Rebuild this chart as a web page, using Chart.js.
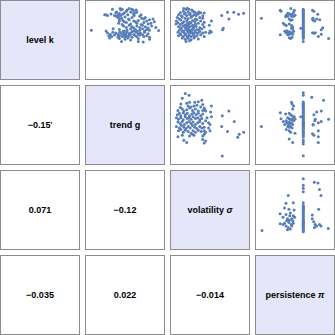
<!DOCTYPE html>
<html><head><meta charset="utf-8">
<script src="https://cdn.jsdelivr.net/npm/chart.js@4/dist/chart.umd.min.js"></script>
<style>
html,body{margin:0;padding:0;background:#fff;}
#grid{position:relative;width:335px;height:335px;}
.cell{position:absolute;width:80px;height:80px;box-sizing:border-box;border:1px solid #8c8c8c;background:#fff;display:flex;align-items:center;justify-content:center;font:bold 9px "Liberation Sans",Arial,Helvetica,sans-serif;color:#000;white-space:pre;}
.diag{background:#e6e6fa;}
.cell canvas{position:absolute;left:0;top:0;}
.mark{font-size:8px;position:relative;top:-1px;}
</style></head>
<body><div id="grid"></div>
<script>
// variable names (diagonal)
const varLabels = ['level k', 'trend g', 'volatility <i>σ</i>', 'persistence <i>π</i>'];
// correlations (lower triangle) and significance marks
const corrCells = [[1,0],[2,0],[2,1],[3,0],[3,1],[3,2]];
const corrLabels = ['−0.15', '0.071', '−0.12', '−0.035', '0.022', '−0.014'];
const corrMarks = ["'", '', '', '', '', ''];

// scatter data, values on a 0–100 scale for each variable: [x, y]
// x = trend g, y = level k
const trendLevel = [
[32,94],[43,95],[44,93],[46,94],[53,93],[56,95],[60,94],[62,92],[66,93],
[37,89],[38,90],[42,88],[49,89],[52,91],[58,90],[62,88],[65,89],[67,90],
[21,86],[23,86],[25,85],[30,87],[35,85],[37.5,84],[40,86],[41,84],[44,85],[47,87],[54,86],[63,85],[71,84],[73,86],
[40,82],[42,80],[45,81],[50,83],[55,80],[60,82],[74,81],[77,80],[79,82],[90,80],
[42,77],[47,78],[49,76],[56,79],[62.5,77],[65,76],[69,78],[81,77],[85,79],[92,76],
[41,74],[46,72],[52,75],[58,73],[67,74],[73,72],[77,75],[83,73],[87,74],
[48,70],[52,68],[56,71],[60,69],[62.5,67],[67,70],[71,68],[75,71],[79,69],[83,67],[88,70],[94,68],
[2,64],[23,63],[33,66],[42,65],[49,63],[53,64],[58,66],[62.5,63],[65,65],[67.5,62.5],[71,64],[75,66],[78,63],[81,65],[85,64],[98,63.5],
[25,60],[29,58],[32.5,61],[37,60],[40,58],[42.5,61],[45,59],[47,62],[49,60],[51,58],[53,61],[56,59],[58,60],[60,62],[62.5,58],[66,61],[69,59],[72,60],[75,58],[78,61],[83,59],
[27,56],[31,55],[35,57],[40,54],[42,56],[46,55],[48,57],[50,54],[52,56],[55,55],[57.5,57],[60,54],[65,56],[67,55],[71,57],[77,55],[81,56],[85,54],
[28,53],[42,52],[50,51],[54,53],[58,50],[69,52],[85,51],
[45,48],[69,48],[76,47]
];
// x = volatility σ, y = level k
const volLevel = [
[12.5,95],[16,93.5],[17.5,95.5],[20,94],[24,93],
[7.5,89],[11.7,91],[14.6,88.5],[18.8,90],[21.7,88],[25.8,91],[28.3,89.5],[31.3,88],[34,90],[36.7,89],[41.7,88.5],
[5,86],[9.2,84.5],[13.3,87],[16.7,85],[20.8,86.5],[24.2,84],[27,86],[30,85],[33.3,87],[39.6,84.5],
[3.3,82],[6.3,80],[10.4,83],[14.6,81],[18.8,80.5],[22.9,82.5],[29.2,80],[35.4,82],[39.6,81],
[2,77],[8.3,78.5],[12.5,76],[16.7,77.5],[20.8,75.5],[25,78],[28.3,76.5],[31.3,79],[36.7,77],[41.7,75.5],[52,77],
[1.3,73],[4.2,74.5],[7.5,72],[10.4,74],[14.6,71.5],[17.5,73.5],[20,72],[22.9,74.5],[25.8,71],[29.2,73],[33.3,74],[39.6,72],[49,71],
[5,69],[8.3,67.5],[11.7,70],[14.6,68],[16.7,70.5],[18.8,67],[20.8,69],[24.2,70],[27,68],[30,69.5],[35.4,67.5],[41.7,68.5],
[6.3,64],[9.2,66],[12.5,63],[15.8,65.5],[17.5,63.5],[20,65],[21.7,62.5],[24.2,64.5],[25.8,66],[28.3,63],[31.3,65],[34.2,64],[38.3,66],[50,63],
[4.2,61],[7.5,59],[10.4,62],[13.3,60],[15.8,58.5],[18.8,61.5],[20.8,59.5],[22.9,62],[25,60],[27,58.5],[29.2,61],[32.5,59.5],[35.4,62],[39.6,60],[43.8,61],[49,60],[52,61.5],
[5,56],[8.3,57.5],[11.7,55],[14.6,57],[17.5,54.5],[20,56.5],[22.9,55],[25.8,57],[28.3,54.5],[31.3,56],[36.7,57.5],[41.7,55],
[10.4,53],[14.6,51],[18.8,52.5],[22.9,50.5],[27,53],[33.3,51.5],
[15.8,48],[20.8,49],
[66.7,85],[75,89.6],[84,89.6],[90.8,86.7],[98,88.3],[77,80],[68,64.6],[69,66.7]
];
// x = persistence π, y = level k
const persLevel = [
[2,81],
[61.8,94],[61.8,92.6],[61.8,91],[61.8,89.4],[61.8,88.1],[61.8,86.5],[61.8,85],[61.8,83.4],[61.8,82.1],[61.8,80.6],[61.8,79],[61.8,77.4],[61.8,76.1],[61.8,74.5],[61.8,73],[61.8,71.6],[61.8,70.1],[61.8,68.4],[61.8,67],[61.8,65.6],[61.8,64],[61.8,62.4],[61.8,61.1],[61.8,59.5],[61.8,58],[61.8,56.4],[61.8,55],[61.8,53.6],[61.8,52.2],[61.8,48],
[29,92.5],[30,91],[44,95],[49,92.5],[37.5,85.4],[39.6,84],[41.7,87.5],[43.8,86],[45.8,86.7],[48,84],[50,85.4],[41.7,80],[43.8,78.3],[45.8,79],
[33.3,74],[35.4,71.7],[37.5,70.8],[41.7,73],[45,70.8],[46.7,68.75],[45,66.7],[46.7,65.8],[35.4,62.5],[37.5,60.4],[39.6,61.7],[41.7,58.3],[43.75,59],[45.8,60.4],[48,62.5],[38.3,63.3],[40.8,60.4],[42.5,61.7],
[29,57.5],[41.7,53.3],[43.8,52],[45.8,54],[58.3,66.7],[46.7,58.3],[39.6,57.5],[36.7,83.3],[45,84],[48,89.6],[39.6,88.3],
[75,92.5],[77,91],[82.5,86.7],[75,80],[76,78.3],[78,77],[81,80],[85.4,79],[89.6,67.5],[87.5,64.6],[75,60.4],[77,59.6],[79,60.4],[87.5,58.3],[83.3,55],[98,52],[75.8,81.25]
];
// x = volatility σ, y = trend g
const volTrend = [
[14.6,95],[20,92.5],
[10.4,88.3],[38.3,85.4],[33.3,83.3],
[16.7,81.25],[20.8,82.5],[28.3,82.5],[39.6,79.2],[8.3,80],
[18.75,77],[22.9,75.8],[27,77],[31.25,78.3],[36.7,75.8],[52,77],[7.5,75],[42.5,71.7],[41.7,74.2],
[4.2,70.8],[10.4,72.9],[12.5,70],[16.7,71.7],[20.8,74.2],[25,70.8],[29.2,72.9],[33.3,70],[39.6,70.8],[43.75,70],[50.8,68.75],
[3.3,64.6],[6.25,66.7],[8.3,63.3],[11.7,67.5],[14.6,64.6],[17.5,66.7],[20.8,63.3],[24.2,65.8],[27,67.5],[30,64.6],[33.3,66.7],[36.7,63.3],[39.6,65.8],[52,61.7],[67.5,63.3],[77,70],
[2,60.4],[5,58.3],[8.3,60.4],[11.7,57.5],[14.6,61.7],[17.5,59.2],[20,60.4],[22.9,58.3],[25.8,61.7],[29.2,59.2],[32.5,60.4],[35.4,57.5],[38.3,59.2],[43.75,56.25],[45.8,60.4],
[4.2,54.2],[7.5,52],[10.4,55],[13.3,50.8],[16.7,53.3],[20,55],[22.9,52],[25.8,54.2],[29.2,50.8],[32.5,53.3],[35.4,55],[39.6,52],[50,50.8],[48,53.3],[84.6,55],
[2,48],[6.25,45.8],[9.2,49.2],[12.5,46.7],[15.8,45],[18.75,48],[21.7,45.8],[25,49.2],[28.3,46.7],[31.25,45],[35.4,48],[38.3,45.8],[41.7,46.7],[48,45.8],[66.7,48],
[5,41.7],[8.3,43.75],[11.7,39.6],[14.6,42.5],[18.75,40.8],[22.9,38.3],[25.8,41.7],[29.2,39.6],[33.3,42.5],[37.5,40.8],[41.7,41.7],[43.75,39.6],[50,41.7],[75,40.8],[98,39.6],
[4.2,33.3],[10.4,35.4],[20.8,34.2],[25,36.7],[27,35.4],[39.6,34.2],[41.7,36.7],[91.7,36.7],[89.6,32.5],
[12.5,28.3],[16.7,25],[39.6,29.2],[41.7,24.2],[43.75,27],
[67.5,5.8]
];
// x = persistence π, y = trend g
const persTrend = [
[2,48],
[61.8,96],[61.8,92.5],[61.8,83],[61.8,81.2],[61.8,79.5],[61.8,78.1],[61.8,76.4],[61.8,75],[61.8,73.6],[61.8,72],[61.8,70.4],[61.8,69.1],[61.8,67.5],[61.8,66],[61.8,64.4],[61.8,63],[61.8,61.6],[61.8,60],[61.8,58.4],[61.8,57.1],[61.8,55.5],[61.8,54],[61.8,52.6],[61.8,51],[61.8,49.4],[61.8,48.1],[61.8,46.5],[61.8,45],[61.8,43.6],[61.8,42],[61.8,40.4],[61.8,39.1],[61.8,37.5],[61.8,36],[61.8,34.4],[61.8,33],[61.8,28.5],[61.8,26],[61.8,23],[61.8,6],
[45,82.5],[45.8,80],[48,77],[46.7,73],[29,67.5],[36.7,65.8],[41.7,66.7],[43.75,64.6],[45.8,63.3],[49,61.7],[30,59],[33.3,55],[37.5,56],[41.7,54],[43.75,57.5],[48,56],[50,58.3],
[35.4,50.8],[39.6,48],[41.7,46.7],[43.75,48],[45.8,45.8],[37.5,43.75],[41.7,41.7],[43.75,39.6],[50,38.3],[41.7,30],[46.7,25],[58.3,61.7],
[39.6,60.4],[41.7,59],[45,53.3],[46.7,50.8],[40.8,50],[42.5,52],[38.3,53.3],[48,60.4],[45,58.3],
[74,89.6],[90.8,85.4],[87.5,70],[81,68.75],[77,64.6],[79,58.3],[87.5,55],[98,58.3],[76,50.8],[83.3,53.3],[83.3,41.7],[75,37.5],[77,35.4],[83.3,33.3],[83.3,25],[78.3,56],[75.8,50]
];
// x = persistence π, y = volatility σ
const persVol = [
[2.9,20.8],
[61.8,94.6],[61.8,85.4],[61.8,81],[61.8,76],[61.8,60.4],[61.8,56.5],[61.8,55.1],[61.8,53.4],[61.8,52],[61.8,50.6],[61.8,49],[61.8,47.5],[61.8,46.1],[61.8,44.4],[61.8,43],[61.8,41.6],[61.8,40],[61.8,38.4],[61.8,37.1],[61.8,35.5],[61.8,34],[61.8,32.6],[61.8,31],[61.8,29.4],[61.8,28.1],[61.8,26.5],[61.8,25],[61.8,23.6],[61.8,22],[61.8,20.4],[61.8,19],
[40.4,70.8],[37.1,59.6],[47.5,60.4],[35,52.9],[41.25,51.25],[48.75,50],[28.75,44.6],[37.1,43.75],[43.3,45.8],[47.5,41.7],[32.9,39.6],[39.2,37.5],[45.4,37.5],[49.6,39.6],
[28.75,30.4],[35,31.25],[41.25,32.1],[47.5,31.25],[37.1,27.1],[40.4,25],[45.4,27.1],[39.2,21.7],[43.3,22.9],
[42,35.4],[44.6,29.2],[38,34.6],[46.7,34.6],[32.9,29.2],[42.5,41.7],
[77.5,89.6],[82.9,88.75],[85,79.2],[87.1,70.8],[83.75,51.25],[74.6,42.9],[74.6,37.5],[76.7,33.3],[78.75,29.2],[80.8,27.1],[77.9,25],[85,29.2],[87.1,27.1],[97.5,23.75]
];

const POINT_COLOR = '#577dba';
const scatterPanels = [
  {row:0, col:1, pts:trendLevel},
  {row:0, col:2, pts:volLevel},
  {row:0, col:3, pts:persLevel},
  {row:1, col:2, pts:volTrend},
  {row:1, col:3, pts:persTrend},
  {row:2, col:3, pts:persVol}
];

const grid = document.getElementById('grid');
const CELL = 80, STEP = 85;
function makeCell(r, c, cls) {
  const d = document.createElement('div');
  d.className = 'cell' + (cls ? ' ' + cls : '');
  d.style.left = (c * STEP) + 'px';
  d.style.top = (r * STEP) + 'px';
  grid.appendChild(d);
  return d;
}
// diagonal
varLabels.forEach((lab, i) => { makeCell(i, i, 'diag').innerHTML = '<span>' + lab + '</span>'; });
// lower triangle
corrCells.forEach(([r, c], i) => {
  const d = makeCell(r, c);
  d.innerHTML = '<span>' + corrLabels[i] + (corrMarks[i] ? '<span class="mark">' + corrMarks[i] + '</span>' : '') + '</span>';
});
// upper triangle scatter panels
scatterPanels.forEach(p => {
  const d = makeCell(p.row, p.col);
  const cv = document.createElement('canvas');
  cv.width = CELL - 2; cv.height = CELL - 2;
  cv.style.width = (CELL - 2) + 'px'; cv.style.height = (CELL - 2) + 'px';
  d.appendChild(cv);
  new Chart(cv, {
    type: 'scatter',
    data: { datasets: [{
      data: p.pts.map(q => ({x: q[0], y: q[1]})),
      backgroundColor: POINT_COLOR,
      borderWidth: 0,
      pointRadius: 1.5,
      clip: false
    }]},
    options: {
      responsive: false,
      animation: false,
      events: [],
      layout: { padding: 0 },
      plugins: { legend: { display: false }, tooltip: { enabled: false } },
      scales: {
        x: { type: 'linear', min: 0, max: 100, display: false },
        y: { type: 'linear', min: 0, max: 100, display: false }
      }
    }
  });
});
</script>
</body></html>
